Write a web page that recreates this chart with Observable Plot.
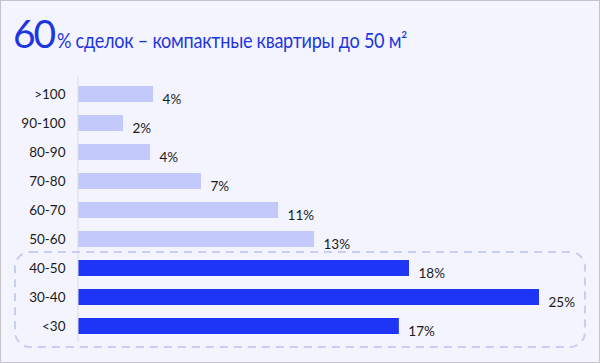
<!DOCTYPE html>
<html>
<head>
<meta charset="utf-8">
<script src="https://cdn.jsdelivr.net/npm/d3@7"></script>
<script src="https://cdn.jsdelivr.net/npm/@observablehq/plot@0.6"></script>
<style>
  html, body { margin: 0; padding: 0; }
  body { width: 600px; height: 363px; position: relative; overflow: hidden; font-family: Lato, "Noto Sans", sans-serif; }
  #frame { position: absolute; left: 0; top: 0; width: 600px; height: 363px; box-sizing: border-box; border: 1px solid #c4c4c8; background: #f3f4fd; }
  #title { position: absolute; left: 13px; top: 11px; line-height: 44px; color: #1e36e0; font-family: Lato, sans-serif; white-space: nowrap; }
  #title .big { font-size: 39px; letter-spacing: -2px; }
  #title .rest { display: inline-block; font-size: 21px; letter-spacing: -0.3px; margin-left: 3px; transform-origin: 0 50%; }
  #chart { position: absolute; left: 0; top: 62px; }
</style>
</head>
<body>
<div id="frame"></div>
<div id="title"><span class="big">60</span><span class="rest">% сделок – компактные квартиры до 50 м²</span></div>
<div id="chart"></div>
<script>
const categories = [">100", "90-100", "80-90", "70-80", "60-70", "50-60", "40-50", "30-40", "<30"];
const values = [4.07, 2.44, 3.9, 6.67, 10.85, 12.8, 17.95, 25.0, 17.4];
const valueLabels = ["4%", "2%", "4%", "7%", "11%", "13%", "18%", "25%", "17%"];
const highlighted = ["40-50", "30-40", "<30"];

const data = categories.map((c, i) => ({
  cat: c, value: values[i], label: valueLabels[i], hi: highlighted.includes(c)
}));

const lightColor = "#c3c9fb";
const darkColor = "#1f35f5";

function dashedFrame(index, scales, values, dimensions, context) {
  const y = scales.y;
  const bw = y.bandwidth();
  const top = y(highlighted[0]) - 8;
  const bottom = y(highlighted[highlighted.length - 1]) + bw + 13;
  const g = d3.create("svg:g");
  g.append("rect")
    .attr("x", 15).attr("y", top)
    .attr("width", dimensions.width - 30).attr("height", bottom - top)
    .attr("rx", 15).attr("ry", 15)
    .attr("fill", "none")
    .attr("stroke", "#c8cdf3")
    .attr("stroke-width", 2)
    .attr("stroke-dasharray", "8,6");
  return g.node();
}

const chart = Plot.plot({
  width: 600,
  height: 300,
  marginTop: 15,
  marginBottom: 20,
  marginLeft: 78,
  marginRight: 61,
  style: { background: "transparent", fontFamily: "Lato, sans-serif", fontSize: "13px", color: "#222" },
  x: { domain: [0, 25], axis: null },
  y: { domain: categories, paddingInner: 0.45, paddingOuter: 0.225, label: null, axis: null },
  marks: [
    Plot.barX(data, { y: "cat", x: "value", fill: d => d.hi ? darkColor : lightColor }),
    Plot.ruleX([0], { stroke: "#d9dbe8", dx: -0.5 }),
    Plot.text(data, { y: "cat", x: "value", text: "label", textAnchor: "start", dx: 9, dy: 5, fill: "#1a1a1a", fontSize: 13.5 }),
    Plot.axisY({ tickSize: 0, tickPadding: 13, fontSize: 13.5, color: "#1a1a1a", label: null }),
    dashedFrame
  ]
});
document.getElementById("chart").appendChild(chart);

// fit the subtitle part of the heading to the reference width (~350px)
const rest = document.querySelector("#title .rest");
const w = rest.getBoundingClientRect().width;
if (w > 0) rest.style.transform = `scaleX(${Math.min(1, 350 / w)})`;
</script>
</body>
</html>
